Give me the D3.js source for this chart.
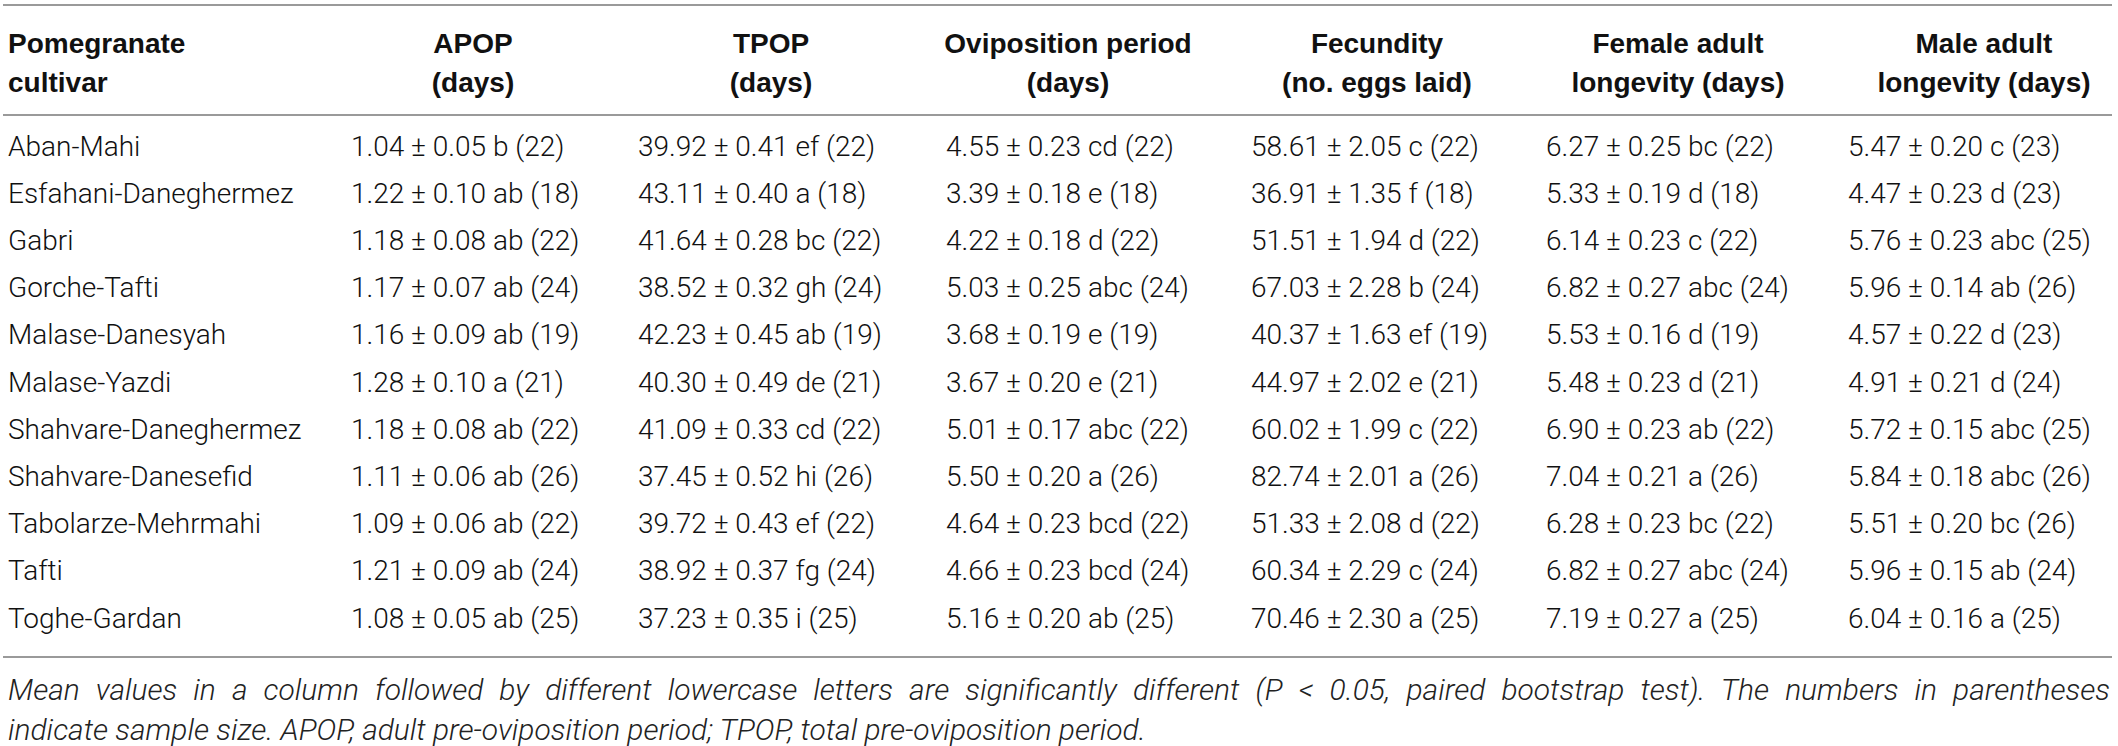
<!DOCTYPE html>
<html><head><meta charset="utf-8">
<script src="https://cdn.jsdelivr.net/npm/d3@7"></script>
<style>
html,body{margin:0;padding:0;background:#fff;}
svg{display:block;}
</style></head>
<body>
<svg id="chart" width="2118" height="746"></svg>
<script>
// ---- data ----
const cultivars = ["Aban-Mahi","Esfahani-Daneghermez","Gabri","Gorche-Tafti","Malase-Danesyah","Malase-Yazdi","Shahvare-Daneghermez","Shahvare-Danesefid","Tabolarze-Mehrmahi","Tafti","Toghe-Gardan"];
const headers = [["Pomegranate","cultivar"],["APOP","(days)"],["TPOP","(days)"],["Oviposition period","(days)"],["Fecundity","(no. eggs laid)"],["Female adult","longevity (days)"],["Male adult","longevity (days)"]];
// [mean, se, letters, n]
const apop = [[1.04,0.05,"b",22],[1.22,0.10,"ab",18],[1.18,0.08,"ab",22],[1.17,0.07,"ab",24],[1.16,0.09,"ab",19],[1.28,0.10,"a",21],[1.18,0.08,"ab",22],[1.11,0.06,"ab",26],[1.09,0.06,"ab",22],[1.21,0.09,"ab",24],[1.08,0.05,"ab",25]];
const tpop = [[39.92,0.41,"ef",22],[43.11,0.40,"a",18],[41.64,0.28,"bc",22],[38.52,0.32,"gh",24],[42.23,0.45,"ab",19],[40.30,0.49,"de",21],[41.09,0.33,"cd",22],[37.45,0.52,"hi",26],[39.72,0.43,"ef",22],[38.92,0.37,"fg",24],[37.23,0.35,"i",25]];
const oviposition = [[4.55,0.23,"cd",22],[3.39,0.18,"e",18],[4.22,0.18,"d",22],[5.03,0.25,"abc",24],[3.68,0.19,"e",19],[3.67,0.20,"e",21],[5.01,0.17,"abc",22],[5.50,0.20,"a",26],[4.64,0.23,"bcd",22],[4.66,0.23,"bcd",24],[5.16,0.20,"ab",25]];
const fecundity = [[58.61,2.05,"c",22],[36.91,1.35,"f",18],[51.51,1.94,"d",22],[67.03,2.28,"b",24],[40.37,1.63,"ef",19],[44.97,2.02,"e",21],[60.02,1.99,"c",22],[82.74,2.01,"a",26],[51.33,2.08,"d",22],[60.34,2.29,"c",24],[70.46,2.30,"a",25]];
const femaleLongevity = [[6.27,0.25,"bc",22],[5.33,0.19,"d",18],[6.14,0.23,"c",22],[6.82,0.27,"abc",24],[5.53,0.16,"d",19],[5.48,0.23,"d",21],[6.90,0.23,"ab",22],[7.04,0.21,"a",26],[6.28,0.23,"bc",22],[6.82,0.27,"abc",24],[7.19,0.27,"a",25]];
const maleLongevity = [[5.47,0.20,"c",23],[4.47,0.23,"d",23],[5.76,0.23,"abc",25],[5.96,0.14,"ab",26],[4.57,0.22,"d",23],[4.91,0.21,"d",24],[5.72,0.15,"abc",25],[5.84,0.18,"abc",26],[5.51,0.20,"bc",26],[5.96,0.15,"ab",24],[6.04,0.16,"a",25]];
const footnote = ["Mean values in a column followed by different lowercase letters are significantly different (P < 0.05, paired bootstrap test). The numbers in parentheses",
                  "indicate sample size. APOP, adult pre-oviposition period; TPOP, total pre-oviposition period."];

// ---- layout ----
const svg = d3.select("#chart");
const W = 2118;
const headFont = "'Liberation Sans', Arial, Helvetica, sans-serif";
const bodyFont = "Roboto, 'Liberation Sans', Arial, sans-serif";
const fs = 28;
const columns = [apop, tpop, oviposition, fecundity, femaleLongevity, maleLongevity];
const colIdx = d3.range(7);
const xValue = d3.scaleOrdinal().domain(colIdx).range([8, 351, 638, 946, 1251, 1546, 1848]);
const xHead = d3.scaleOrdinal().domain(colIdx).range([8, 473, 771, 1068, 1377, 1678, 1984]);
const y = d3.scaleBand().domain(cultivars).range([122, 122 + 11*47.2]);
const yHead = d3.scalePoint().domain([0,1]).range([43, 82]);
const fmt = d => `${d[0].toFixed(2)} \u00B1 ${d[1].toFixed(2)} ${d[2]} (${d[3]})`;

// rules
const rules = [5, 115, 657];
svg.selectAll("line.rule").data(rules).join("line")
  .attr("class","rule").attr("x1",3).attr("x2",W-6)
  .attr("y1",d=>d).attr("y2",d=>d)
  .attr("stroke","#9a9a9a").attr("stroke-width",2);

// header
const hg = svg.append("g").attr("font-family", headFont).attr("font-weight","bold").attr("font-size",fs).attr("fill","#111");
headers.forEach((h,ci)=>{
  h.forEach((line,li)=>{
    hg.append("text")
      .attr("x", xHead(ci))
      .attr("y", yHead(li))
      .attr("dy","0.36em")
      .attr("text-anchor", ci===0 ? "start" : "middle")
      .text(line);
  });
});

// body
const bg = svg.append("g").attr("font-family", bodyFont).attr("font-weight",300).attr("font-size",fs).attr("fill","#111");
bg.selectAll("text.cult").data(cultivars).join("text")
  .attr("class","cult").attr("x", xValue(0)).attr("y", d=>y(d)+y.bandwidth()/2).attr("dy","0.36em")
  .text(d=>d);
columns.forEach((col,ci)=>{
  bg.selectAll("text.c"+ci).data(col).join("text")
    .attr("class","c"+ci).attr("x", xValue(ci+1))
    .attr("y", (d,i)=>y(cultivars[i])+y.bandwidth()/2).attr("dy","0.36em")
    .text(fmt);
});

// footnote
const fg = svg.append("g").attr("font-family", bodyFont).attr("font-weight",300).attr("font-style","italic").attr("font-size",fs).attr("fill","#222");
const fy = [689, 729];
const ftexts = footnote.map((t,i)=> fg.append("text").attr("x",8).attr("y",fy[i]).attr("dy","0.36em").text(t));
// fit font so the short second line ends where the reference's does
const w2 = ftexts[1].node().getComputedTextLength();
const ffs = fs * (1146 - 8) / w2;
fg.attr("font-size", ffs);
const w1 = ftexts[0].node().getComputedTextLength();
const spaces = (footnote[0].match(/ /g)||[]).length;
ftexts[0].attr("word-spacing", (2110 - 8 - w1)/spaces);
</script>
</body></html>
